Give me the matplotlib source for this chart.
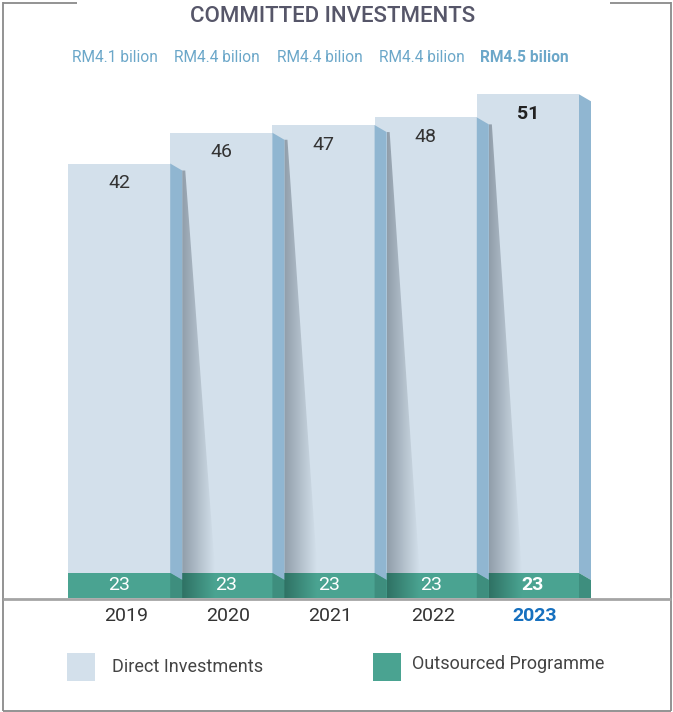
import numpy as np
import matplotlib
matplotlib.use("Agg")
import matplotlib.pyplot as plt
from matplotlib.patches import Polygon, Rectangle
from matplotlib.colors import to_rgb

plt.rcParams['font.family'] = ['Roboto', 'DejaVu Sans']

# data
years = ['2019', '2020', '2021', '2022', '2023']
direct = [42, 46, 47, 48, 51]
outsourced = [23, 23, 23, 23, 23]
amounts = ['RM4.1 bilion', 'RM4.4 bilion', 'RM4.4 bilion', 'RM4.4 bilion', 'RM4.5 bilion']

# colours
BLUE = '#d3e0eb'
BLUE_SIDE = '#90b6d1'
GREEN = '#4aa391'
GREEN_SIDE = '#3e8e7e'
LABEL_BLUE = '#6ba7c9'
HIGHLIGHT = '#1670bf'
TEXT = '#333333'

W, H = 673, 712
fig = plt.figure(figsize=(W / 100, H / 100), dpi=100)

# overlay axes in pixel units for frame, title and legend
frame = fig.add_axes([0, 0, 1, 1])
frame.set_xlim(0, W)
frame.set_ylim(H, 0)
frame.axis('off')

# bar axes: x from 68px to 579px, baseline at 598px
base = -14.5
px_per_unit = 7.69
top_px = 40
ax = fig.add_axes([68 / W, (H - 598) / H, (579 - 68) / W, (598 - top_px) / H])
ax.set_xlim(-0.5, len(years) - 0.5)
ax.set_ylim(base, base + (598 - top_px) / px_per_unit)
ax.axis('off')

x = np.arange(len(years))
side_w = 12 / 102.2          # depth of side face in x units
slant = 7 / px_per_unit      # drop of side face top in y units
green_h = 25 / px_per_unit   # height of the outsourced band
shadow_w = 33 / 102.2

# front faces
ax.bar(x, np.array(direct) - base, bottom=base, width=1.0, color=BLUE, zorder=1)
ax.bar(x, [green_h] * len(x), bottom=base, width=1.0, color=GREEN, zorder=2)


def gradient_fill(ax, poly_pts, c0, c1, x0, x1, z):
    poly = Polygon(poly_pts, closed=True, facecolor='none', edgecolor='none')
    ax.add_patch(poly)
    c0, c1 = np.array(to_rgb(c0)), np.array(to_rgb(c1))
    t = np.linspace(0, 1, 64)[None, :, None]
    img = c0 + (c1 - c0) * t
    ys = [p[1] for p in poly_pts]
    im = ax.imshow(img, extent=[x0, x1, min(ys), max(ys)], aspect='auto',
                   origin='lower', zorder=z, interpolation='bilinear')
    im.set_clip_path(poly)


# shadows cast onto the next bar
gtop = base + green_h
for i in range(len(x) - 1):
    xr = x[i] + 0.5 + side_w
    ytop = direct[i] - slant
    blue_pts = [(xr, ytop), (xr + 0.03, ytop), (xr + shadow_w, gtop), (xr, gtop)]
    gradient_fill(ax, blue_pts, '#919eaa', BLUE, xr, xr + shadow_w, 3)
    green_pts = [(xr, base), (xr + shadow_w, base), (xr + shadow_w, gtop), (xr, gtop)]
    gradient_fill(ax, green_pts, '#2f7264', GREEN, xr, xr + shadow_w, 3)

# side faces
for i in range(len(x)):
    xl = x[i] + 0.5
    xr = xl + side_w
    ax.add_patch(Polygon([(xl, direct[i]), (xr, direct[i] - slant),
                          (xr, gtop - slant), (xl, gtop)],
                         closed=True, facecolor=BLUE_SIDE, edgecolor='none',
                         zorder=4, clip_on=False))
    ax.add_patch(Polygon([(xl, gtop), (xr, gtop - slant), (xr, base), (xl, base)],
                         closed=True, facecolor=GREEN_SIDE, edgecolor='none',
                         zorder=4, clip_on=False))

# value labels
for i in range(len(x)):
    last = i == len(x) - 1
    ax.annotate(str(direct[i]), (x[i], direct[i]), xytext=(0, -14),
                textcoords='offset points', ha='center', va='center',
                fontsize=14, color='#222222' if last else TEXT,
                fontweight='bold' if last else 'normal', zorder=6)
    ax.annotate(str(outsourced[i]), (x[i] + (0.05 if i > 0 else 0), base + green_h / 2),
                ha='center', va='center', fontsize=14, color='white',
                fontweight='bold' if last else 'normal', zorder=6)

# amount labels above and year labels below
for i in range(len(x)):
    last = i == len(x) - 1
    px = 68 + (x[i] + 0.5) * 102.2
    frame.text(px - 4, 57, amounts[i], ha='center', va='center', fontsize=11.2,
               color=LABEL_BLUE, fontweight='bold' if last else 'normal')
    frame.text(px + 7, 616, years[i], ha='center', va='center', fontsize=14,
               color=HIGHLIGHT if last else TEXT,
               fontweight='bold' if last else 'normal')

# frame and baseline
line_kw = dict(color='#8a8a8a', lw=1.3, solid_capstyle='butt')
frame.plot([3, 77], [2.5, 2.5], **line_kw)
frame.plot([610, 671], [2.5, 2.5], **line_kw)
frame.plot([3, 3], [2, 711], **line_kw)
frame.plot([671, 671], [2, 711], **line_kw)
frame.plot([3, 671], [711, 711], **line_kw)
frame.plot([3, 671], [598.5, 598.5], color='#a5a5a5', lw=2, solid_capstyle='butt')

frame.text(333, 17, 'COMMITTED INVESTMENTS', ha='center', va='center',
           fontsize=16, fontweight='medium', color='#565669')

# legend
frame.add_patch(Rectangle((67, 653), 28, 28, facecolor=BLUE, edgecolor='none'))
frame.text(112, 667, 'Direct Investments', ha='left', va='center',
           fontsize=13, color='#444444')
frame.add_patch(Rectangle((373, 653), 28, 28, facecolor=GREEN, edgecolor='none'))
frame.text(412, 664, 'Outsourced Programme', ha='left', va='center',
           fontsize=13, color='#444444')

fig.savefig('out.png', dpi=100)
